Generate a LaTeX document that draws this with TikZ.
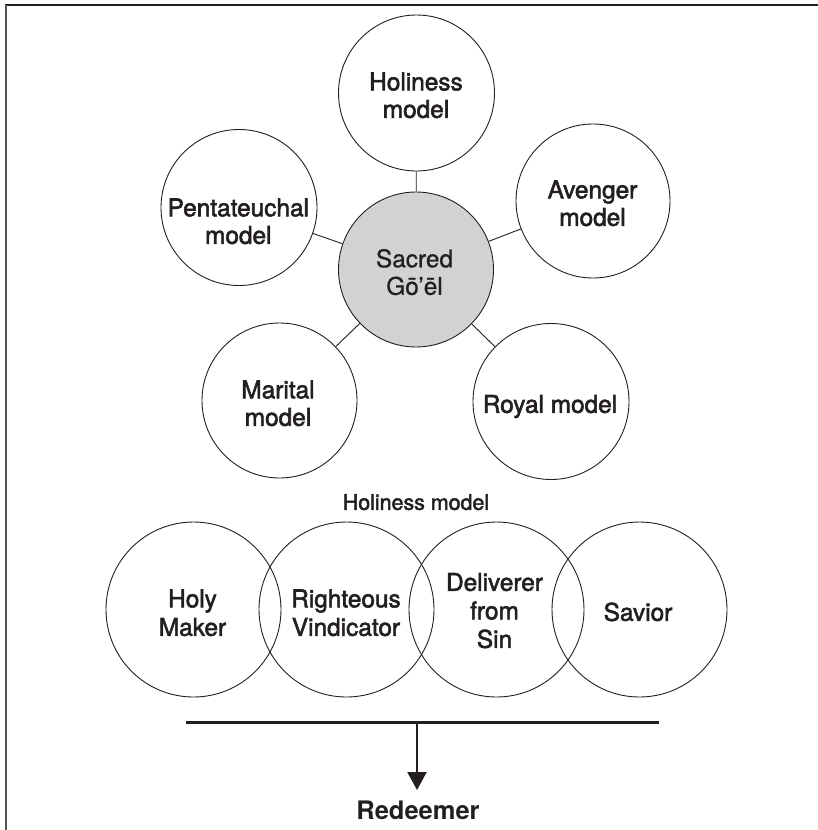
\documentclass[tikz,border=0pt]{standalone}
\usepackage{fontspec}
\setmainfont{TeX Gyre Heros}
\newfontfamily\medfont[FakeBold=2.2]{TeX Gyre Heros}
\newfontfamily\regfont[FakeBold=0.7]{TeX Gyre Heros}
\usetikzlibrary{arrows.meta}
\definecolor{ink}{RGB}{35,31,32}
\definecolor{rule}{RGB}{85,85,85}
\definecolor{hubfill}{RGB}{209,210,212}

\begin{document}
\begin{tikzpicture}[x=1pt,y=-1pt,
  model/.style={circle,draw=ink,line width=0.9pt,inner sep=0pt,minimum size=#1},
  link/.style={draw=ink,line width=0.9pt},
  caption/.style={font=\medfont\fontsize{24.4}{27.5}\selectfont,align=center,
    inner sep=0pt,text depth=0pt,anchor=south,text=ink},
  hubtext/.style={font=\regfont\fontsize{24.4}{27.5}\selectfont,align=center,
    inner sep=0pt,text depth=0pt,anchor=south,text=ink},
  rowtext/.style={font=\medfont\fontsize{24.4}{28.5}\selectfont,align=center,
    inner sep=0pt,text depth=0pt,anchor=south,text=ink},
]
\useasboundingbox (0,0) rectangle (818,830);

% page frame: top rule and left rule
\draw[ink,line width=2pt] (5,5.3) -- (818,5.3);
\draw[rule,line width=2pt] (6,5.3) -- (6,830);

% hub and its five models
\node[model=155pt,fill=hubfill] (hub) at (416,269.5) {};
\node[model=156pt] (holiness) at (416.5,93) {};
\node[model=156pt] (penta) at (239,207.5) {};
\node[model=154pt] (avenger) at (593,201) {};
\node[model=155pt] (marital) at (279.5,400.5) {};
\node[model=156pt] (royal) at (551,401.5) {};

\path[link] (hub) -- (holiness);
\path[link] (hub) -- (penta);
\path[link] (hub) -- (avenger);
\path[link] (hub) -- (marital);
\path[link] (hub) -- (royal);

\node[hubtext] (hubT) at (414.5,295) {Sacred\\Gō’ēl};
\node[caption] (holinessT) at (416,118) {Holiness\\model};
\node[caption] (pentaT) at (238.3,244) {Pentateuchal\\model};
\node[caption] (avengerT) at (592.5,226) {Avenger\\model};
\node[caption] (maritalT) at (278,426) {Marital\\model};
\node[caption] (royalT) at (550,413) {Royal model};

% holiness model, unfolded
\node[font=\medfont\fontsize{21.4}{24}\selectfont,inner sep=0pt,text depth=0pt,
  anchor=south,text=ink] (rowtitle) at (416,510) {Holiness model};

\node[model=175pt] (maker) at (193.5,609.5) {};
\node[model=175pt] (vindicator) at (346.5,609.5) {};
\node[model=175pt] (deliverer) at (496.5,609.5) {};
\node[model=175pt] (savior) at (639.5,609.5) {};

\node[rowtext] (makerT) at (192.5,636) {Holy\\Maker};
\node[rowtext] (vindicatorT) at (346,636) {Righteous\\Vindicator};
\node[rowtext] (delivererT) at (494.5,648) {Deliverer\\from\\Sin};
\node[rowtext] (saviorT) at (638,621) {Savior};

% bracket bar and arrow to the result
\coordinate (barL) at (186,722);
\coordinate (barR) at (659,722);
\coordinate (barM) at (417,722);
\draw[ink,line width=3pt] (barL) -- (barR);

\node[font=\bfseries\fontsize{25.5}{28}\selectfont,inner sep=0pt,text depth=0pt,
  anchor=south,text=ink] (redeemer) at (418,820) {Redeemer};

\draw[ink,line width=2.2pt,-{Triangle[width=19pt,length=18pt]},shorten >=11pt]
  (barM) -- (barM |- redeemer.north);
\end{tikzpicture}
\end{document}
